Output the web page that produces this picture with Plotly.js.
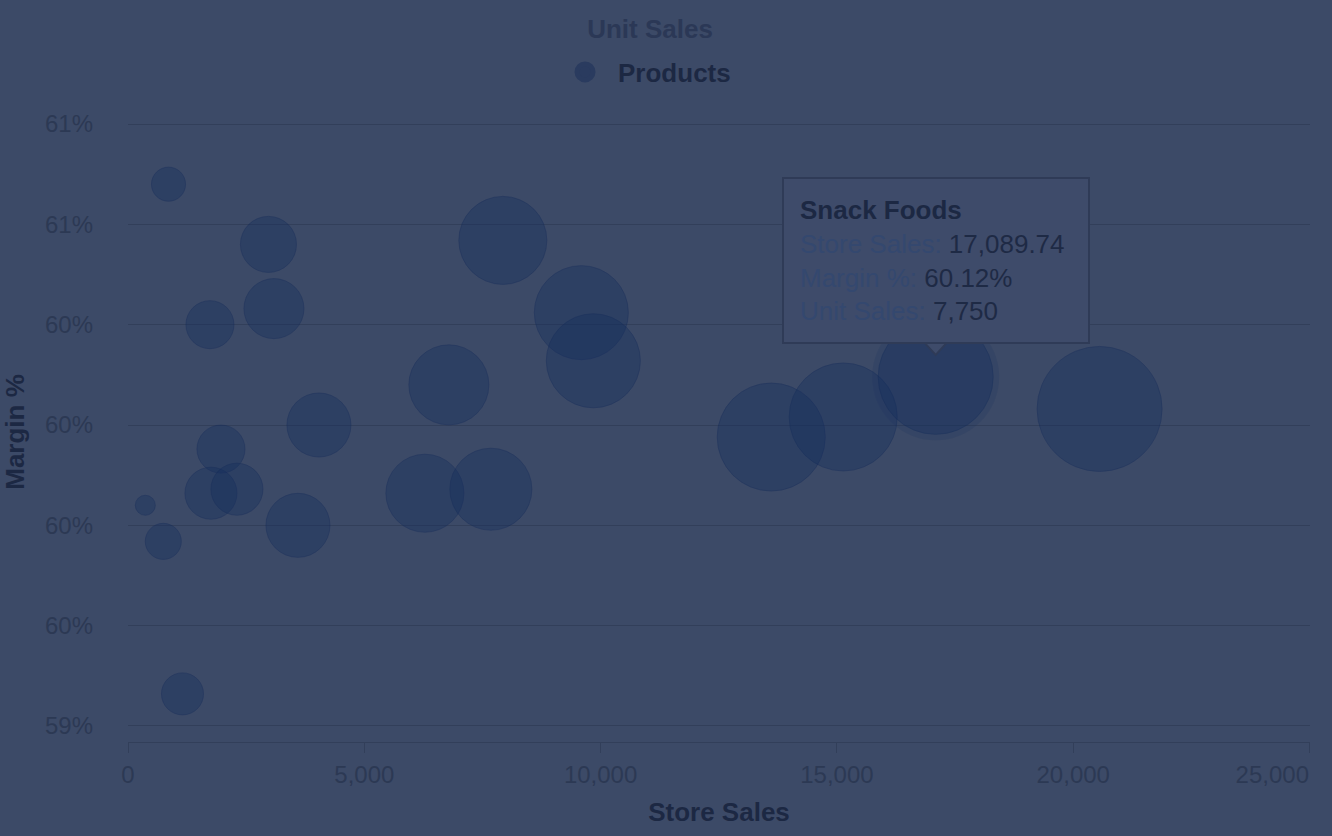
<!DOCTYPE html>
<html>
<head>
<meta charset="utf-8">
<script src="https://cdn.plot.ly/plotly-3.0.1.min.js"></script>
<style>
  html, body { margin: 0; padding: 0; background: #3c4a67; }
  #chart { width: 1332px; height: 836px; }
</style>
</head>
<body>
<div id="chart"></div>
<script>
// ---- data ----
const storeSales = [857, 2972, 1734, 3088, 6789, 4040, 1967, 1755, 2305, 366, 747,
                    3596, 6282, 7678, 1153, 7931, 9592, 9846, 13610, 15133, 17089.74, 20558];
const marginPct  = [60.60, 60.45, 60.25, 60.29, 60.10, 60.00, 59.94, 59.83, 59.84, 59.80, 59.71,
                    59.75, 59.83, 59.84, 59.33, 60.46, 60.28, 60.16, 59.97, 60.02, 60.12, 60.04];
const unitSales  = [680, 1840, 1350, 2110, 3750, 2400, 1350, 1585, 1585, 234, 760,
                    2400, 3565, 3940, 1034, 4538, 5178, 5178, 6835, 6835, 7750, 9156];
const xTickVals  = [0, 5000, 10000, 15000, 20000];
const xLastTick  = [25000];
const seriesName = "Products";
const legendTitle = "Unit Sales";
const xTitle = "Store Sales";
const yTitle = "Margin %";
const highlightName = "Snack Foods";
const highlightIndex = 20;

// ---- styling ----
const BG = "#3c4a67";
const GRID = "#323f5a";
const TICK = "#2c3954";
const TITLE = "#1c2843";
const TIPBG = "#3e4b6a";
const TIPBORDER = "#2f3b57";
const FONT = "Liberation Sans, Arial, Helvetica, sans-serif";
const SIZEREF = 1.172;

const hx = storeSales[highlightIndex];
const hy = marginPct[highlightIndex];
const hz = unitSales[highlightIndex];
const hRadius = Math.sqrt(hz / (2 * SIZEREF));

const fmt2 = new Intl.NumberFormat('en-US', {minimumFractionDigits: 2, maximumFractionDigits: 2});
const fmt0 = new Intl.NumberFormat('en-US', {maximumFractionDigits: 0});
const LBL = "#34486f";
const VAL = "#1e2a45";
const tipText =
  '<span style="font-weight:bold;color:' + TITLE + '">' + highlightName + '</span><br>' +
  '<span style="color:' + LBL + '">' + xTitle + ': </span><span style="color:' + VAL + '">' + fmt2.format(hx) + '</span><br>' +
  '<span style="color:' + LBL + '">' + yTitle + ': </span><span style="color:' + VAL + '">' + fmt2.format(hy) + '%</span><br>' +
  '<span style="color:' + LBL + '">' + legendTitle + ': </span><span style="color:' + VAL + '">' + fmt0.format(hz) + '</span>';

const halo = {
  type: 'scatter', mode: 'markers',
  x: [hx], y: [hy],
  marker: { size: [2 * hRadius + 12], sizemode: 'diameter',
            color: 'rgba(20,46,94,0.22)', line: {width: 0} },
  showlegend: false, hoverinfo: 'skip'
};

const bubbles = {
  type: 'scatter', mode: 'markers', name: seriesName,
  x: storeSales, y: marginPct,
  marker: { size: unitSales, sizemode: 'area', sizeref: SIZEREF,
            color: 'rgba(20,46,94,0.5)',
            line: {color: 'rgba(20,44,90,0.55)', width: 1} },
  showlegend: false,
  hovertemplate: xTitle + ': %{x:,.2f}<br>' + yTitle + ': %{y:.2f}%<br>' + legendTitle + ': %{marker.size:,}<extra></extra>'
};

const legendItem = {
  type: 'scatter', mode: 'markers', name: seriesName,
  x: [null], y: [null],
  marker: { size: 16, color: '#2a3b5f', line: {color: '#2a3b5f', width: 5} },
  showlegend: true, hoverinfo: 'skip'
};

// carries the overlay axis that shows the last x label flush with the plot edge
const lastTickCarrier = {
  type: 'scatter', mode: 'markers', x: [null], y: [null],
  xaxis: 'x2', yaxis: 'y', showlegend: false, hoverinfo: 'skip'
};

const layout = {
  width: 1332, height: 836,
  paper_bgcolor: BG, plot_bgcolor: BG,
  margin: {l: 128, r: 22, t: 122, b: 94, autoexpand: false},
  font: {family: FONT, color: TICK},
  title: {
    text: legendTitle, xref: 'container', yref: 'container',
    x: 0.488, xanchor: 'center', y: 1 - 29 / 836, yanchor: 'middle',
    font: {family: FONT, size: 26, color: '#2b3856', weight: 'bold'}
  },
  showlegend: true,
  legend: {
    orientation: 'h', xref: 'container', yref: 'container',
    x: 0.4835, xanchor: 'center', y: 1 - 72 / 836, yanchor: 'middle',
    itemwidth: 56, bgcolor: 'rgba(0,0,0,0)',
    font: {family: FONT, size: 26, color: TITLE, weight: 'bold'}
  },
  xaxis: {
    range: [0, 25010], tickmode: 'array', tickvals: xTickVals.concat(xLastTick), ticktext: xTickVals.map(v => fmt0.format(v)).concat(['']),
    showgrid: false, zeroline: false,
    showline: true, linecolor: GRID, linewidth: 1,
    ticks: 'outside', ticklen: 10, tickcolor: GRID, tickwidth: 1,
    tickfont: {family: FONT, size: 24, color: TICK},
    ticklabelstandoff: 1,
    title: {text: xTitle, standoff: 16, font: {family: FONT, size: 26, color: TITLE, weight: 'bold'}},
    automargin: false, fixedrange: true
  },
  xaxis2: {
    overlaying: 'x', matches: 'x', anchor: 'y', side: 'bottom',
    tickmode: 'array', tickvals: xLastTick, tickformat: ',d',
    ticklabelposition: 'outside left', ticklabeloverflow: 'allow',
    showgrid: false, zeroline: false, showline: false,
    ticks: 'outside', ticklen: 10, tickcolor: 'rgba(0,0,0,0)',
    tickfont: {family: FONT, size: 24, color: TICK},
    ticklabelstandoff: 11,
    automargin: false, fixedrange: true
  },
  yaxis: {
    range: [59.2101, 60.755], tick0: 59.25, dtick: 0.25, tickformat: '.0f', ticksuffix: '%',
    showgrid: true, gridcolor: GRID, gridwidth: 1, zeroline: false, showline: false,
    ticks: '', tickfont: {family: FONT, size: 24, color: TICK},
    ticklabelstandoff: 34,
    title: {text: yTitle, standoff: 14, font: {family: FONT, size: 26, color: TITLE, weight: 'bold'}},
    automargin: false, fixedrange: true
  },
  shapes: [{
    type: 'path', layer: 'above',
    xref: 'x', yref: 'y', xsizemode: 'pixel', ysizemode: 'pixel',
    xanchor: hx, yanchor: hy,
    path: 'M -11 34 L 0 22 L 11 34 Z',
    fillcolor: TIPBG, line: {color: TIPBORDER, width: 2}
  }],
  annotations: [{
    x: hx, y: hy, xref: 'x', yref: 'y',
    text: tipText, showarrow: false, align: 'left', width: 272,
    xanchor: 'center', yanchor: 'bottom', yshift: 33,
    font: {family: FONT, size: 26, color: VAL},
    bgcolor: TIPBG, bordercolor: TIPBORDER, borderwidth: 2, borderpad: 16
  }],
  hovermode: 'closest'
};

Plotly.newPlot('chart', [halo, bubbles, legendItem, lastTickCarrier], layout, {displayModeBar: false});
</script>
</body>
</html>
